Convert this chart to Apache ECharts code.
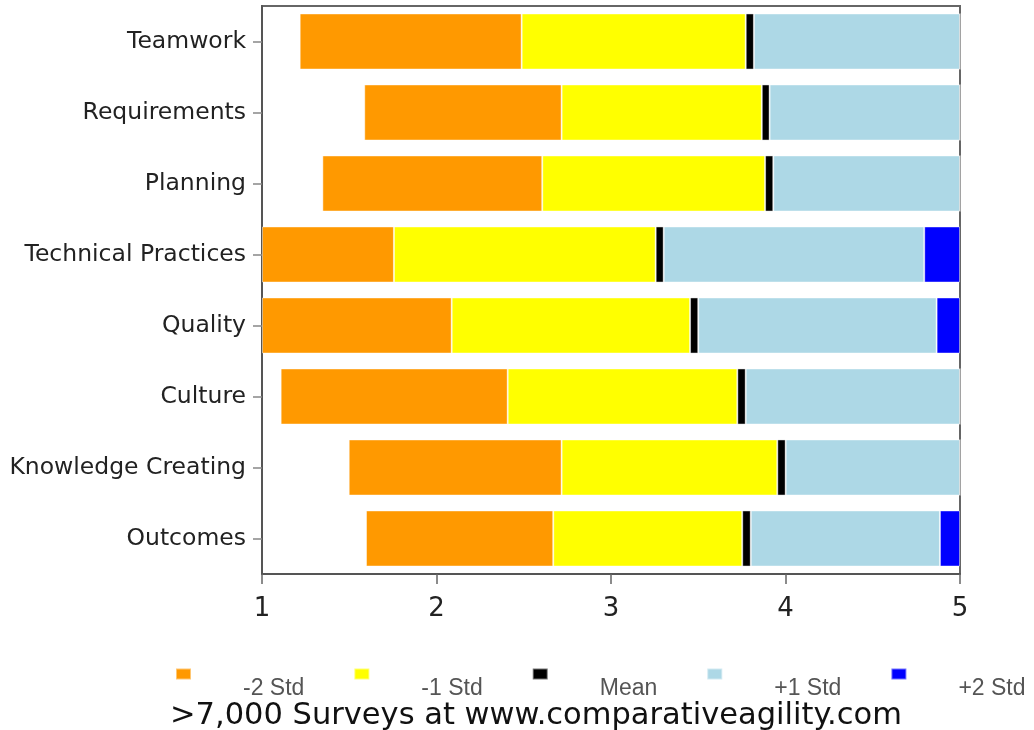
<!DOCTYPE html>
<html>
<head>
<meta charset="utf-8">
<script src="https://cdn.jsdelivr.net/npm/echarts@6/dist/echarts.min.js"></script>
<style>
    html, body { margin: 0; padding: 0; background: #fff; }
    #chart { width: 1034px; height: 730px; }
</style>
</head>
<body>
<div id="chart"></div>
<script>
"use strict";

// categories, top to bottom
var categories = ["Teamwork", "Requirements", "Planning", "Technical Practices",
    "Quality", "Culture", "Knowledge Creating", "Outcomes"];

// where each band starts on the 1-5 scale
var minus2Start = [1.216, 1.586, 1.346, 1.000, 1.000, 1.107, 1.497, 1.596];
var minus1Start = [2.488, 2.717, 2.606, 1.756, 2.087, 2.408, 2.717, 2.669];
var meanStart   = [3.772, 3.864, 3.883, 3.256, 3.453, 3.724, 3.953, 3.752];
var plus1Start  = [3.819, 3.909, 3.930, 3.302, 3.500, 3.772, 4.001, 3.801];
var plus2Start  = [5.000, 5.000, 5.000, 4.795, 4.866, 5.000, 5.000, 4.885];
var scaleMax = 5;

var xTicks = [1, 2, 3, 4, 5];

var bandNames  = ["-2 Std", "-1 Std", "Mean", "+1 Std", "+2 Std"];
var bandColors = ["#ff9900", "#ffff00", "#000000", "#add8e6", "#0000ff"];

(function (window, echarts) {
    var chart = echarts.init(document.getElementById("chart"));

    // segment lengths for the stack
    var diff = (a, b) => a.map((v, i) => +(b[i] - v).toFixed(3));
    var segs = [
        diff(minus2Start, minus1Start),
        diff(minus1Start, meanStart),
        diff(meanStart, plus1Start),
        diff(plus1Start, plus2Start),
        plus2Start.map(v => +(scaleMax - v).toFixed(3))
    ];

    var series = [{
        name: "base",
        type: "bar",
        stack: "all",
        silent: true,
        itemStyle: { color: "transparent" },
        data: minus2Start
    }];
    segs.forEach((d, k) => {
        series.push({
            name: bandNames[k],
            type: "bar",
            stack: "all",
            barCategoryGap: "21%",
            itemStyle: {
                color: bandColors[k],
                borderColor: "rgba(255,255,255,0.45)",
                borderWidth: 1
            },
            data: d
        });
    });

    var option = {
        animation: false,
        title: {
            text: ">7,000 Surveys at www.comparativeagility.com",
            left: 170,
            top: 701,
            padding: 0,
            textStyle: {
                fontFamily: "DejaVu Sans",
                fontSize: 30.5,
                fontWeight: "normal",
                color: "#111"
            }
        },
        legend: {
            data: bandNames,
            left: 175,
            top: 645,
            width: 880,
            padding: 0,
            orient: "horizontal",
            icon: "rect",
            itemWidth: 15,
            itemHeight: 11,
            itemGap: 49,
            // empty first line pushes the label below the square
            formatter: "\n{name}",
            textStyle: {
                fontFamily: "Liberation Sans",
                fontSize: 23,
                lineHeight: 29,
                color: "#555",
                padding: [0, 0, 0, 47]
            }
        },
        grid: {
            left: 262,
            right: 74,
            top: 6,
            bottom: 156,
            show: true,
            borderColor: "#666",
            borderWidth: 2,
            outerBoundsMode: "none"
        },
        xAxis: {
            type: "value",
            min: xTicks[0],
            max: xTicks[xTicks.length - 1],
            interval: 1,
            splitLine: { show: false },
            axisLine: { show: true, lineStyle: { color: "#555", width: 2 } },
            axisTick: { show: true, length: 10, lineStyle: { color: "#666", width: 1.5 } },
            axisLabel: {
                fontFamily: "DejaVu Sans",
                fontSize: 26,
                color: "#222",
                margin: 22
            }
        },
        yAxis: {
            type: "category",
            inverse: true,
            data: categories,
            axisLine: { show: true, lineStyle: { color: "#555", width: 2 } },
            axisTick: { show: true, alignWithLabel: true, length: 9, lineStyle: { color: "#888", width: 1.5 } },
            axisLabel: {
                fontFamily: "DejaVu Sans",
                fontSize: 23.5,
                color: "#222",
                margin: 16,
                padding: [4, 0, 0, 0]
            }
        },
        series: series
    };

    chart.setOption(option);
}(window, echarts));
</script>
</body>
</html>
